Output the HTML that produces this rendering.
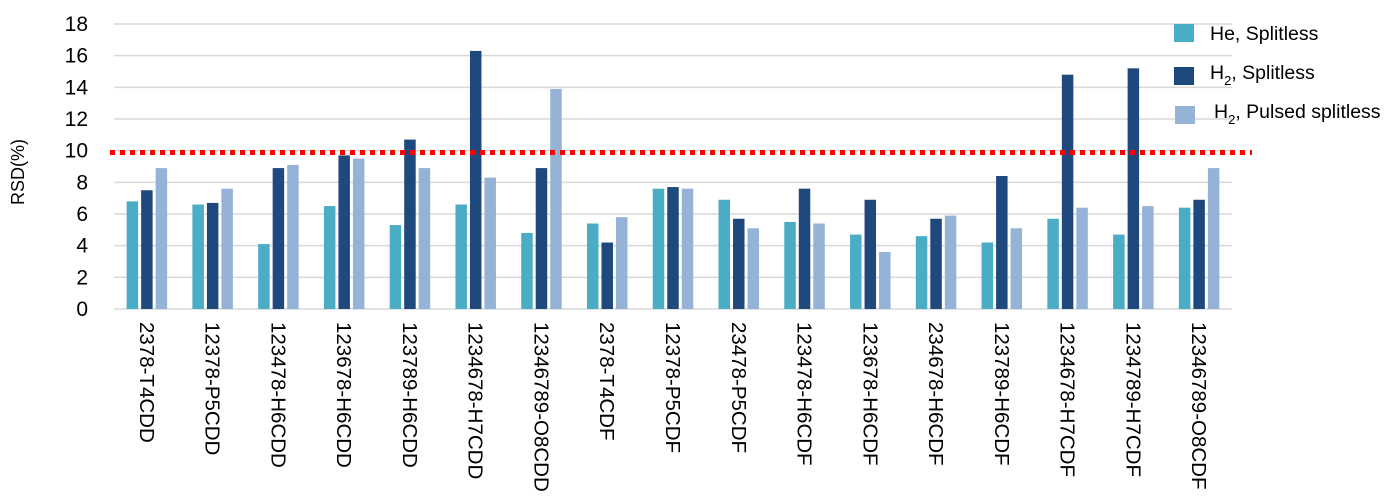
<!DOCTYPE html>
<html><head><meta charset="utf-8"><style>
body{margin:0;background:#fff;}
svg{display:block;font-family:"Liberation Sans",sans-serif;}
</style></head><body>
<svg id="chart" width="1399" height="504" viewBox="0 0 1399 504">
<g id="grid"></g>
<g id="yt"></g>
<g id="bars"></g>
<g id="xt"></g>
<line x1="110" x2="1252" y1="152.5" y2="152.5" stroke="#ff0000" stroke-width="5" stroke-dasharray="5,5"/>
<text x="0" y="0" transform="translate(24,172) rotate(-90)" text-anchor="middle" font-size="18" fill="#000">RSD(%)</text>
<g>
<g><rect x="1174" y="24" width="20" height="18" fill="#4bacc6"/><text x="1210" y="40" font-size="19.5">He, Splitless</text></g>
<g><rect x="1174" y="67" width="20" height="18" fill="#1f497d"/><text x="1210" y="79" font-size="19.5">H<tspan font-size="13" dy="6">2</tspan><tspan dy="-6">, Splitless</tspan></text></g>
<g><rect x="1175" y="106" width="20" height="18" fill="#95b3d7"/><text x="1214" y="118" font-size="19.5">H<tspan font-size="13" dy="6">2</tspan><tspan dy="-6">, Pulsed splitless</tspan></text></g>
</g>
</svg>
<script>
const categories=["2378-T4CDD","12378-P5CDD","123478-H6CDD","123678-H6CDD","123789-H6CDD","1234678-H7CDD","12346789-O8CDD","2378-T4CDF","12378-P5CDF","23478-P5CDF","123478-H6CDF","123678-H6CDF","234678-H6CDF","123789-H6CDF","1234678-H7CDF","1234789-H7CDF","12346789-O8CDF"];
const heSplitless=[6.8,6.6,4.1,6.5,5.3,6.6,4.8,5.4,7.6,6.9,5.5,4.7,4.6,4.2,5.7,4.7,6.4];
const h2Splitless=[7.5,6.7,8.9,9.7,10.7,16.3,8.9,4.2,7.7,5.7,7.6,6.9,5.7,8.4,14.8,15.2,6.9];
const h2Pulsed=[8.9,7.6,9.1,9.5,8.9,8.3,13.9,5.8,7.6,5.1,5.4,3.6,5.9,5.1,6.4,6.5,8.9];
const yTicks=[0,2,4,6,8,10,12,14,16,18];
const NS="http://www.w3.org/2000/svg";
const X0=114,X1=1232,Y0=309,Y1=24,YMAX=18;
const band=(X1-X0)/categories.length;
const y=v=>Y0-(v/YMAX)*(Y0-Y1);
const xc=i=>X0+band*(i+0.5);
function mk(tag,attrs,parent){const e=document.createElementNS(NS,tag);for(const k in attrs)e.setAttribute(k,attrs[k]);parent.appendChild(e);return e;}
const grid=document.getElementById('grid'),yt=document.getElementById('yt'),bars=document.getElementById('bars'),xt=document.getElementById('xt');
yTicks.forEach(t=>{
  const l=mk('line',{x1:X0,x2:X1,y1:y(t),y2:y(t),stroke:'#d9d9d9','stroke-width':1.5},grid);
  
  
  const tx=mk('text',{x:88,y:y(t)+7,'text-anchor':'end','font-size':21,fill:'#000'},yt);
  tx.textContent=t;
  
  
});
const series=[[heSplitless,'#4bacc6','he-splitless'],[h2Splitless,'#1f497d','h2-splitless'],[h2Pulsed,'#95b3d7','h2-pulsed']];
const bw=11.5,step=14.5;
categories.forEach((c,i)=>{
  series.forEach((s,j)=>{
    const v=s[0][i];
    const r=mk('rect',{x:xc(i)+(j-1)*step-bw/2,y:y(v),width:bw,height:Y0-y(v),fill:s[1]},bars);
    
    
  });
  const t=mk('text',{x:0,y:0,transform:'translate('+(xc(i)-7)+',322) rotate(90)','font-size':20.5,fill:'#000'},xt);
  t.textContent=c;
  
  
});
</script>
</body></html>
